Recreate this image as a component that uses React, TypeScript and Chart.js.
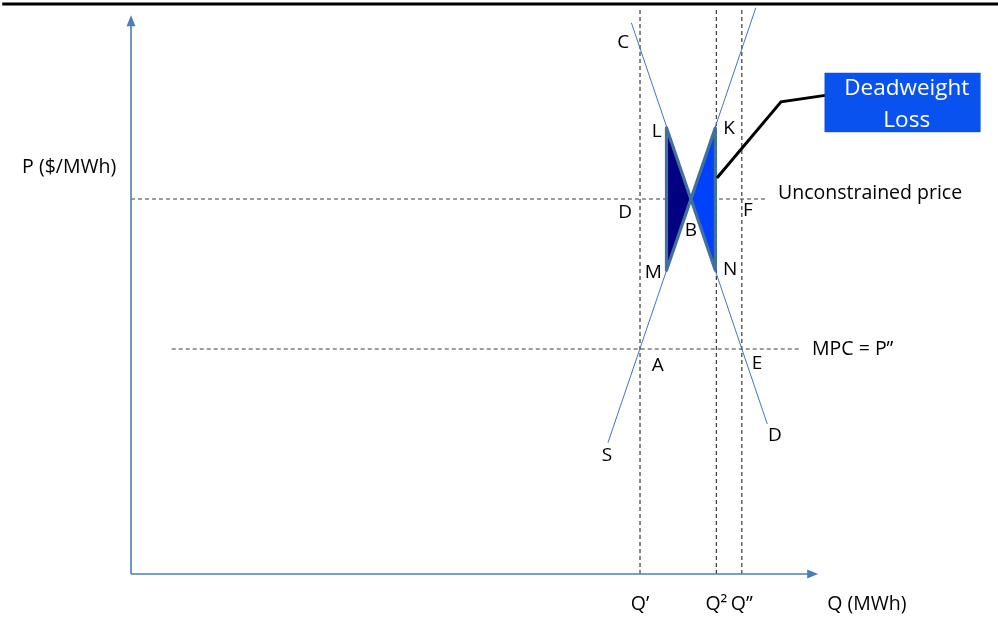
import React, { useEffect, useRef } from "react";
import { Chart, registerables } from "chart.js";

Chart.register(...registerables);

// ---- Data (economic units: Q in MWh-index, P in $/MWh-index) ----
const qMarks = [100, 115, 120]; // Q', Q², Q''
const qMarkLabels = ["Q’", "Q²", "Q”"];
const unconstrainedPrice = 100;
const mpcPrice = 60;
const axisQMax = 135;
const axisPMax = 149;
const topRuleP = 152;
const dashTopP = 151;
const unconstrainedLineQ = [0, 124.6];
const mpcLineQ = [8, 131.4];

const demandQ = [98.3, 125];
const demandP = [147, 40];
const supplyQ = [93.7, 122.75];
const supplyP = [35, 151];

// Deadweight-loss triangles
const leftTriQ = [105.2, 105.2, 110, 105.2];
const leftTriP = [119, 81, 100, 119];
const rightTriQ = [114.8, 114.8, 110, 114.8];
const rightTriP = [119, 81, 100, 119];

// Callout
const calloutQ = [115.1, 127.7, 136.7];
const calloutP = [105.6, 125.9, 127.7];
const boxQ = [136.3, 166.8, 166.8, 136.3, 136.3];
const boxP = [133.6, 133.6, 117.9, 117.9, 133.6];
const boxLines = ["Deadweight", "Loss"];
const boxTextQ = 152.4;
const boxLineP = [129.4, 121.0];

// Point labels
const pointLabels = ["C", "L", "K", "D", "B", "F", "M", "N", "A", "E", "S", "D"];
const pointLabelQ = [96.7, 103.3, 117.5, 97.1, 110.0, 121.2, 102.6, 117.7, 103.5, 123.0, 93.5, 126.5];
const pointLabelP = [141.6, 117.9, 118.9, 96.5, 91.7, 96.8, 80.3, 81.3, 55.7, 56.0, 31.5, 36.8];

// Axis / line captions
const captions = ["P ($/MWh)", "Unconstrained price", "MPC = P”", "Q (MWh)"];
const captionQ = [-21.4, 127.1, 133.8, 136.8];
const captionP = [108.3, 101.6, 60, -8];
const qMarkLabelP = -8;

// Scale window
const qMin = -25.74;
const qMax = 170.33;
const pMin = -12.27;
const pMax = 153.07;

const zip = (xs: number[], ys: number[]) => xs.map((x, i) => ({ x, y: ys[i] }));

const FONT = '"Open Sans", "Noto Sans", sans-serif';
const AXIS_BLUE = "#4a7ebb";
const LINE_BLUE = "#4472c4";
const DASH = "#3a3a3a";

export default function App() {
  const ref = useRef<HTMLCanvasElement | null>(null);

  useEffect(() => {
    document.body.style.margin = "0";
    const canvas = ref.current;
    if (!canvas) return;

    const dashed = (pts: { x: number; y: number }[]) => ({
      data: pts,
      showLine: true,
      borderColor: DASH,
      borderWidth: 1.2,
      borderDash: [4, 3],
      pointRadius: 0,
      fill: false,
    });

    const datasets: any[] = [
      // top rule
      { data: zip([-25.3, 171], [topRuleP, topRuleP]), showLine: true, borderColor: "#000", borderWidth: 3, pointRadius: 0 },
      // dashed guides
      ...qMarks.map((q) => dashed(zip([q, q], [0, dashTopP]))),
      dashed(zip(unconstrainedLineQ, [unconstrainedPrice, unconstrainedPrice])),
      dashed(zip(mpcLineQ, [mpcPrice, mpcPrice])),
      // axes
      { data: zip([0, 0], [0, axisPMax - 1.5]), showLine: true, borderColor: AXIS_BLUE, borderWidth: 1.6, pointRadius: 0 },
      { data: zip([0, axisQMax - 1.5], [0, 0]), showLine: true, borderColor: AXIS_BLUE, borderWidth: 1.6, pointRadius: 0 },
      // demand & supply
      { data: zip(demandQ, demandP), showLine: true, borderColor: LINE_BLUE, borderWidth: 1, pointRadius: 0 },
      { data: zip(supplyQ, supplyP), showLine: true, borderColor: LINE_BLUE, borderWidth: 1, pointRadius: 0 },
      // triangles
      {
        data: zip(leftTriQ, leftTriP), showLine: true, borderColor: "#41719c", borderWidth: 3.2,
        backgroundColor: "#000080", fill: "shape", pointRadius: 0, borderJoinStyle: "round",
      },
      {
        data: zip(rightTriQ, rightTriP), showLine: true, borderColor: "#41719c", borderWidth: 3.2,
        backgroundColor: "#0040ff", fill: "shape", pointRadius: 0, borderJoinStyle: "round",
      },
      // callout
      { data: zip(calloutQ, calloutP), showLine: true, borderColor: "#000", borderWidth: 3, pointRadius: 0 },
      {
        data: zip(boxQ, boxP), showLine: true, borderColor: "#0a52ef", borderWidth: 0.5,
        backgroundColor: "#0a52ef", fill: "shape", pointRadius: 0,
      },
    ];
    datasets.forEach((d, i) => (d.order = -i));

    const annotate = {
      id: "annotate",
      afterDatasetsDraw(chart: any) {
        const { ctx } = chart;
        const xs = chart.scales.x;
        const ys = chart.scales.y;
        const px = (q: number) => xs.getPixelForValue(q);
        const py = (p: number) => ys.getPixelForValue(p);
        ctx.save();
        // arrowheads
        ctx.fillStyle = AXIS_BLUE;
        const ax = px(0), ay = py(axisPMax);
        ctx.beginPath();
        ctx.moveTo(ax, ay);
        ctx.lineTo(ax - 4.5, ay + 11);
        ctx.lineTo(ax + 4.5, ay + 11);
        ctx.closePath();
        ctx.fill();
        const bx = px(axisQMax), by = py(0);
        ctx.beginPath();
        ctx.moveTo(bx, by);
        ctx.lineTo(bx - 11, by - 4.5);
        ctx.lineTo(bx - 11, by + 4.5);
        ctx.closePath();
        ctx.fill();

        const text = (s: string, q: number, p: number, align: CanvasTextAlign, size: number, color = "#000") => {
          ctx.font = `${size}px ${FONT}`;
          ctx.fillStyle = color;
          ctx.textAlign = align;
          ctx.textBaseline = "middle";
          ctx.fillText(s, px(q), py(p));
        };
        pointLabels.forEach((s, i) => text(s, pointLabelQ[i], pointLabelP[i], "center", 19));
        captions.forEach((s, i) => text(s, captionQ[i], captionP[i], "left", 19.5));
        qMarkLabels.forEach((s, i) => text(s, qMarks[i], qMarkLabelP, "center", 19.5));
        boxLines.forEach((s, i) => text(s, boxTextQ, boxLineP[i], "center", 22.5, "#fff"));
        ctx.restore();
      },
    };

    const chart = new Chart(canvas, {
      type: "scatter",
      data: { datasets },
      options: {
        animation: false,
        responsive: false,
        maintainAspectRatio: false,
        layout: { padding: 0 },
        events: [],
        plugins: { legend: { display: false }, tooltip: { enabled: false } },
        scales: {
          x: { type: "linear", display: false, min: qMin, max: qMax },
          y: { type: "linear", display: false, min: pMin, max: pMax },
        },
      },
      plugins: [annotate],
    } as any);

    return () => chart.destroy();
  }, []);

  return (
    <div style={{ position: "absolute", left: 0, top: 0, width: 998, height: 620, background: "#fff" }}>
      <canvas ref={ref} width={998} height={620} style={{ width: 998, height: 620 }} />
    </div>
  );
}
